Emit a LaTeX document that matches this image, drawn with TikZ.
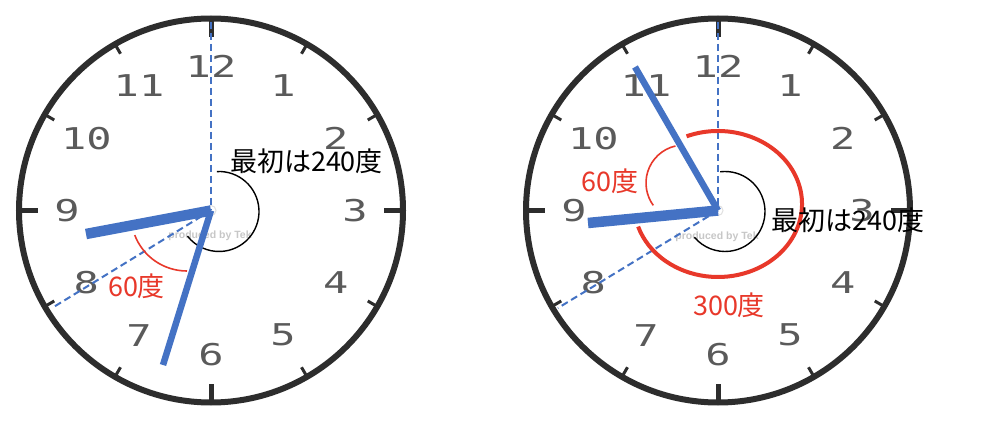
\documentclass[tikz,border=0pt]{standalone}
\usepackage{fontspec}
\usepackage{graphicx}
\newfontfamily\jpfont{Noto Sans CJK JP}
\newfontfamily\digitfont{DejaVu Sans Mono}
\newfontfamily\wmfont{Liberation Sans}
\definecolor{handblue}{RGB}{68,114,196}
\definecolor{anglered}{RGB}{232,56,42}
\definecolor{numgray}{RGB}{90,90,90}
\definecolor{rimgray}{RGB}{45,45,45}
\tikzset{
  rim/.style={draw=rimgray, line width=6pt},
  majortick/.style={draw=rimgray, line width=5pt},
  minortick/.style={draw=rimgray, line width=3pt},
  numeral/.style={text=numgray, font=\digitfont\fontsize{30}{30}\selectfont, inner sep=0pt},
  hourhand/.style={draw=handblue, line width=10.5pt},
  minutehand/.style={draw=handblue, line width=6.5pt},
  guide/.style={draw=handblue, line width=2pt, dash pattern=on 7pt off 4pt},
  turnarc/.style={draw=black, line width=1.4pt},
  redarc/.style={draw=anglered, line width=1.6pt},
  bigredarc/.style={draw=anglered, line width=4pt},
  jplabel/.style={font=\jpfont\fontsize{27}{27}\selectfont, inner sep=0pt},
  watermark/.style={text=black!22, font=\wmfont\bfseries\fontsize{10.5}{10.5}\selectfont, inner sep=0pt},
  pivot/.style={draw=black!12, line width=1pt}
}
\begin{document}
\begin{tikzpicture}[x=1pt,y=-1pt]
\useasboundingbox (0,0) rectangle (982,422);
\fill[white] (0,0) rectangle (982,422);
% clock faces
\foreach \c/\cx/\wy in {L/211/236, R/718/237}{
  \coordinate (\c) at (\cx,210.5);
  \draw[rim] (\c) circle[radius=192];
  \foreach \h in {0,3,6,9}
    \draw[majortick] ([shift={(30*\h-90:192)}]\c) -- ([shift={(30*\h-90:173)}]\c);
  \foreach \h in {1,2,4,5,7,8,10,11}
    \draw[minortick] ([shift={(30*\h-90:192)}]\c) -- ([shift={(30*\h-90:181)}]\c);
  \foreach \h/\t in {1/1,2/2,3/3,4/4,5/5,6/6,7/7,8/8,9/9,10/10,11/11,12/12}
    \node[numeral] (\c num\h) at ([shift={(30*\h-90:144)}]\c) {\scalebox{1.4}[1]{\t}};
  \node[watermark] (\c wm) at (\cx-1,\wy) {produced by Tek};
  \draw[pivot] (\c) circle[radius=5];
}
% ---------- left clock ----------
\coordinate (Ltop) at (211,22);
\coordinate (Leight) at (52,308);
\draw[guide] (Ltop) -- (L);
\draw[guide] (L) -- (Leight);
\coordinate (LA) at (219,211.5);
\draw[turnarc] ([shift={(-93:40)}]LA) arc[start angle=-93, end angle=142, radius=40];
\coordinate (LR) at (187,215);
\draw[redarc] ([shift={(159:56)}]LR) arc[start angle=159, end angle=90, radius=56];
\coordinate (Lhour) at (86,234);
\coordinate (Lmin) at (163,365);
\draw[hourhand] (L) -- (Lhour);
\draw[minutehand] (L) -- (Lmin);
\node[jplabel, text=anglered] (L60) at (136.5,286) {60度};
\node[jplabel] (Linit) at (306.5,161.5) {最初は240度};
% ---------- right clock ----------
\coordinate (Rtop) at (718,22);
\coordinate (Reight) at (558,308);
\draw[guide] (Rtop) -- (R);
\draw[guide] (R) -- (Reight);
\coordinate (RA) at (725,211.5);
\draw[turnarc] ([shift={(-97:40)}]RA) arc[start angle=-97, end angle=140, radius=40];
\coordinate (RE) at (718,204);
\draw[bigredarc] ([shift={(-112:84 and 73)}]RE) arc[start angle=-112, end angle=162, x radius=84, y radius=73];
\coordinate (RS) at (684,183);
\draw[redarc] ([shift={(-103:38)}]RS) arc[start angle=-103, end angle=-216, radius=38];
\coordinate (Rhour) at (588,223);
\coordinate (Rmin) at (635,67);
\draw[hourhand] (R) -- (Rhour);
\draw[minutehand] (R) -- (Rmin);
\node[jplabel, text=anglered] (R60) at (610,181.5) {60度};
\node[jplabel, text=anglered] (R300) at (729,305) {300度};
\node[jplabel] (Rinit) at (848,220) {最初は240度};
\end{tikzpicture}
\end{document}
